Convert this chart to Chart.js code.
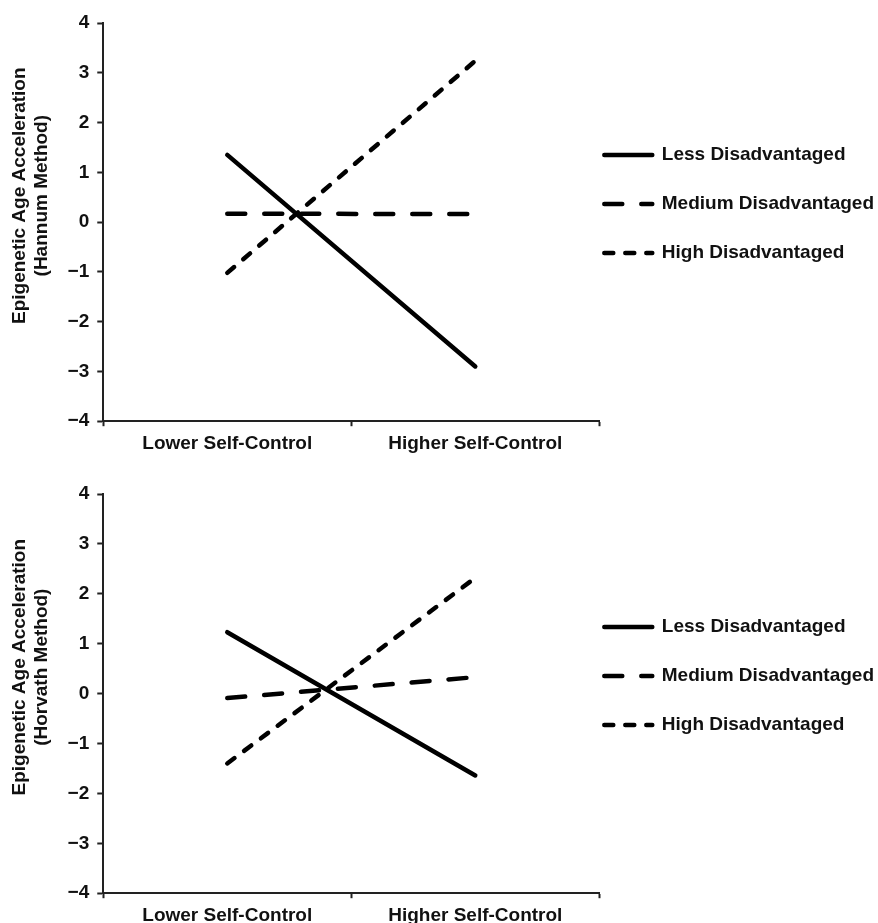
<!DOCTYPE html>
<html>
<head>
<meta charset="utf-8">
<script src="https://cdn.jsdelivr.net/npm/chart.js@4"></script>
<style>
  html, body { margin: 0; padding: 0; background: #fff; overflow: hidden; }
  canvas { display: block; }
</style>
</head>
<body>
<canvas id="hannum" width="878" height="460"></canvas>
<canvas id="horvath" width="878" height="473"></canvas>
<script>
const categories = ["Lower Self-Control", "Higher Self-Control"];
const seriesNames = ["Less Disadvantaged", "Medium Disadvantaged", "High Disadvantaged"];

const hannumLess = [1.35, -2.9];
const hannumMedium = [0.17, 0.16];
const hannumHigh = [-1.02, 3.24];

const horvathLess = [1.23, -1.64];
const horvathMedium = [-0.09, 0.33];
const horvathHigh = [-1.4, 2.32];

const yMin = -4;
const yMax = 4;

const FONT = "'Liberation Sans', Arial, sans-serif";
const INK = "#111";
// leading spaces push the rotated title up a bit, like the original
const PAD = "          ";

// moves the legend block after layout so it sits where the original had it
const nudgeLegend = {
  id: "nudgeLegend",
  afterLayout(chart, args, opts) {
    const lg = chart.legend;
    lg.left += opts.dx; lg.right += opts.dx;
    lg.top += opts.dy; lg.bottom += opts.dy;
  },
};

// legend rows drawn as dashed line samples (point-style legend would drop the dash)
function legendLabels(chart) {
  return chart.data.datasets.map((ds, i) => ({
    text: [ds.label], // array text -> row height follows font.lineHeight
    datasetIndex: i,
    fillStyle: "#000",
    strokeStyle: "#000",
    fontColor: INK,
    lineWidth: ds.borderWidth,
    lineDash: ds.borderDash,
    lineCap: ds.borderCapStyle,
    pointStyle: "line",
    hidden: false,
  }));
}

function makeChart(id, less, medium, high, method, padTop, padBottom, dy) {
  const data = {
    labels: categories,
    datasets: [
      { label: seriesNames[0], data: less, borderDash: [] },
      { label: seriesNames[1], data: medium, borderDash: [18, 19] },
      { label: seriesNames[2], data: high, borderDash: [9, 12] },
    ].map(d => Object.assign(d, {
      borderColor: "#000",
      backgroundColor: "#000",
      borderWidth: 4.5,
      borderCapStyle: "round",
      pointRadius: 0,
      tension: 0,
      fill: false,
    })),
  };

  const config = {
    type: "line",
    data: data,
    plugins: [nudgeLegend],
    options: {
      responsive: false,
      animation: false,
      devicePixelRatio: 1,
      layout: { padding: { top: padTop, left: 8, right: -6, bottom: padBottom } },
      scales: {
        x: {
          offset: true,
          grid: { offset: true, drawOnChartArea: false, tickLength: 5, tickWidth: 2, color: "#222" },
          border: { color: "#222", width: 2 },
          ticks: { color: INK, padding: 6, font: { family: FONT, size: 19, weight: "bold" } },
        },
        y: {
          min: yMin,
          max: yMax,
          grid: { drawOnChartArea: false, tickLength: 6, tickWidth: 2, color: "#222" },
          border: { color: "#222", width: 2 },
          ticks: {
            stepSize: 1,
            color: INK,
            padding: 8,
            font: { family: FONT, size: 19, weight: "bold" },
            callback: v => (v < 0 ? "\u2212" + Math.abs(v) : String(v)),
          },
          title: {
            display: true,
            text: [PAD + "Epigenetic Age Acceleration", PAD + "(" + method + " Method)"],
            color: INK,
            padding: { top: 0, bottom: 6 },
            font: { family: FONT, size: 19, weight: "bold" },
          },
        },
      },
      plugins: {
        nudgeLegend: { dx: 0, dy: dy },
        tooltip: { enabled: false },
        legend: {
          position: "right",
          align: "center",
          maxWidth: 300,
          labels: {
            usePointStyle: true,
            pointStyleWidth: 48,
            padding: 5,
            color: INK,
            font: { family: FONT, size: 19, weight: "bold", lineHeight: 44 / 19 },
            generateLabels: legendLabels,
          },
        },
      },
    },
  };

  return new Chart(document.getElementById(id), config);
}

makeChart("hannum", hannumLess, hannumMedium, hannumHigh, "Hannum", 23, -1, -25.5);
makeChart("horvath", horvathLess, horvathMedium, horvathHigh, "Horvath", 34, 0, -25);
</script>
</body>
</html>
